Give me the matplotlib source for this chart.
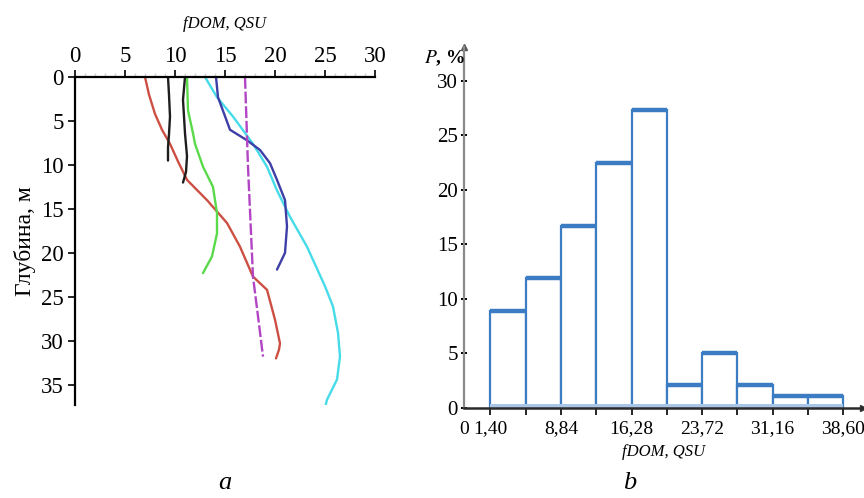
import matplotlib

matplotlib.use("Agg")
import matplotlib.pyplot as plt

# --- (a) fDOM depth profiles: (fDOM, depth) pairs ---------------------------
red_x = [7.0, 7.4, 8.0, 8.7, 9.5, 10.3, 11.2, 13.2, 15.2, 16.5, 17.8, 19.2, 20.0, 20.5, 20.4, 20.1]
red_d = [0, 2.0, 4.2, 6.0, 7.6, 9.6, 11.7, 14.0, 16.6, 19.3, 22.7, 24.2, 27.6, 30.3, 31.0, 32.0]

black1_x = [9.3, 9.4, 9.5, 9.4, 9.3, 9.3]
black1_d = [0, 2.0, 4.5, 6.5, 8.0, 9.5]

black2_x = [11.0, 10.8, 10.9, 11.0, 11.2, 11.1, 10.8]
black2_d = [0, 2.6, 4.5, 6.4, 9.0, 10.8, 12.0]

green_x = [11.2, 11.3, 11.8, 12.0, 12.8, 13.8, 14.2, 14.2, 13.7, 12.8]
green_d = [0, 3.8, 6.4, 7.6, 10.2, 12.5, 15.5, 17.8, 20.4, 22.3]

cyan_x = [13.0, 14.2, 15.8, 17.8, 19.2, 20.2, 21.5, 23.2, 25.0, 25.8, 26.3, 26.5, 26.2, 25.2, 25.0]
cyan_d = [0, 2.3, 4.5, 7.6, 10.2, 12.9, 15.9, 19.3, 23.8, 26.1, 29.1, 31.8, 34.4, 36.7, 37.6]

blue_x = [14.1, 14.3, 15.5, 17.2, 18.5, 19.5, 20.2, 21.0, 21.2, 21.0, 20.2]
blue_d = [0, 2.3, 6.0, 7.2, 8.3, 9.8, 11.7, 14.0, 17.0, 20.0, 21.9]

magenta_x = [17.0, 17.3, 17.8, 18.3, 18.8]
magenta_d = [0, 10.2, 22.7, 27.2, 31.8]

# --- (b) histogram of fDOM ---------------------------------------------------
bin_edges = [1.40, 5.12, 8.84, 12.56, 16.28, 20.00, 23.72, 27.44, 31.16, 34.88, 38.60]
freq_pct = [8.9, 11.9, 16.7, 22.5, 27.3, 2.1, 5.0, 2.1, 1.1, 1.1]
x_tick_labels = ["1,40", "8,84", "16,28", "23,72", "31,16", "38,60"]
y_ticks_b = [0, 5, 10, 15, 20, 25, 30]

SERIF = "Liberation Serif"
plt.rcParams["font.family"] = SERIF

fig = plt.figure(figsize=(8.64, 4.98), dpi=100)
W, H = 864, 498


def px_axes(x0, y_top, x1, y_bot):
    return fig.add_axes([x0 / W, 1 - y_bot / H, (x1 - x0) / W, (y_bot - y_top) / H])


# ---------------- panel a ----------------
ax = px_axes(75, 77, 375, 405)
ax.set_xlim(0, 30)
ax.set_ylim(37.3, 0)

profiles = [
    (red_x, red_d, "#cd4f43", "-"),
    (black1_x, black1_d, "#1e1e1e", "-"),
    (black2_x, black2_d, "#1e1e1e", "-"),
    (green_x, green_d, "#5ad94a", "-"),
    (cyan_x, cyan_d, "#45dbe8", "-"),
    (blue_x, blue_d, "#3d3fa6", "-"),
    (magenta_x, magenta_d, "#b245c4", (0, (5, 1.2))),
]
for xs, ds, c, ls in profiles:
    ax.plot(xs, ds, color=c, lw=1.7, ls=ls, solid_capstyle="round",
            solid_joinstyle="round")

ax.xaxis.tick_top()
ax.xaxis.set_label_position("top")
ax.set_xticks(range(0, 31, 5))
ax.set_xticks(range(0, 31, 1), minor=True)
ax.set_yticks(range(0, 36, 5))
ax.tick_params(axis="x", which="major", direction="out", length=5, width=1.2,
               labelsize=16.5, pad=2)
ax.tick_params(axis="x", which="minor", direction="out", length=3, width=1,
               color="#d0d0d0")
ax.tick_params(axis="y", direction="out", length=5, width=1.2, labelsize=16.5, pad=3)
ax.set_xlabel("fDOM, QSU", fontsize=12, style="italic", labelpad=13)
ax.set_ylabel("Глубина, м", fontsize=17, labelpad=4)
for side in ["right", "bottom"]:
    ax.spines[side].set_visible(False)
ax.spines["top"].set_linewidth(1.6)
ax.spines["left"].set_linewidth(1.6)

# ---------------- panel b ----------------
x_origin = -1.39
bx = px_axes(464, 47, 863, 408)
bx.set_xlim(x_origin, 40.7)
bx.set_ylim(0, 33.1)

lefts = bin_edges[:-1]
widths = [b - a for a, b in zip(bin_edges[:-1], bin_edges[1:])]
bx.bar(lefts, freq_pct, width=widths, align="edge", facecolor="white",
       edgecolor="#3b7cc2", linewidth=1.6, zorder=2)
bx.hlines(freq_pct, lefts, bin_edges[1:], color="#3b7cc2", lw=3.2, zorder=3)
bx.axhspan(0, 0.35, xmin=(bin_edges[0] - x_origin) / (40.7 - x_origin),
           xmax=(bin_edges[-1] - x_origin) / (40.7 - x_origin),
           color="#a9c6e6", zorder=2.5, lw=0)

bx.set_yticks(y_ticks_b)
bx.set_xticks([x_origin] + bin_edges)
bx.set_xticklabels(["0", x_tick_labels[0], "", x_tick_labels[1], "", x_tick_labels[2], "",
                    x_tick_labels[3], "", x_tick_labels[4], "", x_tick_labels[5]])
bx.tick_params(axis="x", direction="out", length=5, width=1.2, labelsize=14, pad=4)
bx.tick_params(axis="y", direction="inout", length=5, width=1.4, labelsize=15, pad=2)
bx.get_xticklines()[0].set_visible(False)
for side in ["right", "top"]:
    bx.spines[side].set_visible(False)
bx.spines["left"].set_color("#8a8a8a")
bx.spines["left"].set_linewidth(1.6)
bx.spines["bottom"].set_color("#2a2a2a")
bx.spines["bottom"].set_linewidth(1.8)
bx.plot([0], [1], marker="^", color="#555555", ms=5, transform=bx.transAxes,
        clip_on=False)
bx.plot([1], [0], marker=">", color="#333333", ms=5, transform=bx.transAxes,
        clip_on=False)
bx.set_xlabel("fDOM, QSU", fontsize=12, style="italic", labelpad=5)
fig.text(424 / W, 1 - 58 / H, r"$P$, %", fontsize=14, ha="left", va="center",
         fontweight="bold", math_fontfamily="stix")

# panel letters
fig.text(225 / W, 1 - 483 / H, "a", fontsize=19, style="italic", ha="center", va="center")
fig.text(630 / W, 1 - 483 / H, "b", fontsize=19, style="italic", ha="center", va="center")

fig.savefig("out.png", dpi=100, facecolor="white")
